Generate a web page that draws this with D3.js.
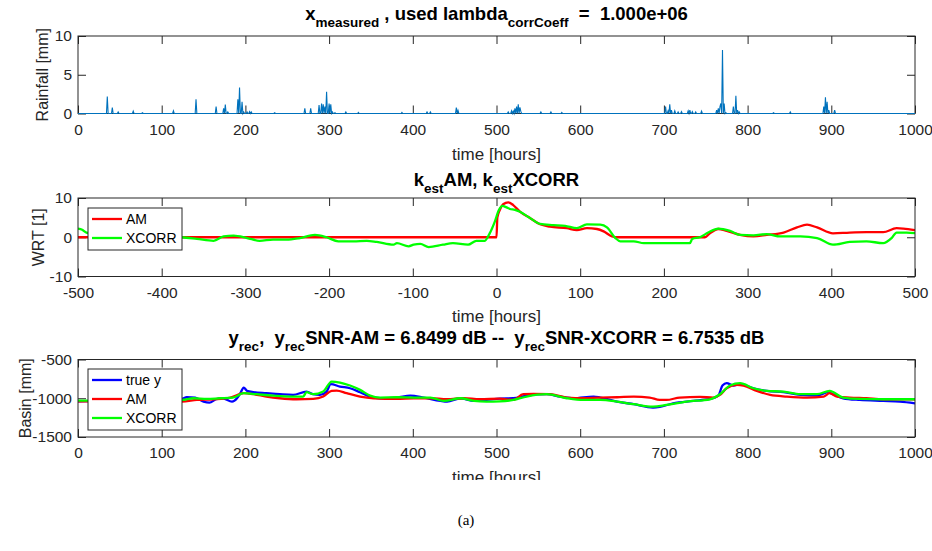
<!DOCTYPE html>
<html><head><meta charset="utf-8">
<script src="https://cdn.jsdelivr.net/npm/d3@7"></script>
<style>
html,body{margin:0;padding:0;background:#fff;}
text{font-family:"Liberation Sans",Arial,sans-serif;}
</style></head>
<body><svg id="c" width="932" height="551"></svg>
<script>
// ---------- DATA ----------
// Panel 1: measured rainfall (non-zero hours only; all other hours are 0)
const rainHours  = [35,41,48,66,77,114,141,165,174,176,179,191,193,196,198,202,205,207,235,271,278,288,291,293,295,297,300,302,304,307,320,335,387,417,421,452,454,514,518,520,522,524,526,528,529,553,565,578,702,705,707,709,713,717,721,729,731,734,738,745,763,765,767,768,770,772,774,783,786,788,790,831,851,891,893,895,897,904];
const rainValues = [2.2,0.75,0.2,0.3,0.1,0.35,1.85,0.9,0.65,1.15,0.2,1.85,3.35,1.5,0.2,0.2,0.25,0.2,0.1,0.65,0.65,1.1,1.3,1.2,0.9,2.8,1.3,1.2,0.2,0.1,0.2,0.15,0.15,0.2,0.2,0.75,0.4,0.2,0.35,0.3,0.65,0.9,1.2,0.8,0.3,0.2,0.2,0.15,0.9,0.35,1.2,0.45,0.35,0.2,0.25,0.35,0.45,0.25,0.2,0.3,0.45,0.65,0.9,1.3,8.2,1.3,0.1,0.9,2.3,0.45,0.2,0.1,0.2,0.9,2.1,1.5,0.45,0.45];

// Panel 2: estimated kernels
const amLag  = [-500,0,1,4,8,14,20,28,40,52,64,84,96,108,120,128,138,142,249,255,265,275,291,307,323,343,359,371,383,402,422,442,462,478,486,500];
const amK    = [0,0,5,7.0,8.4,8.9,8.2,6.5,4.9,3.3,2.7,2.3,1.8,2.3,2.1,1.5,0.2,0,0,1,2.1,1.6,0.6,0.2,0.6,1.2,2.5,3.2,2.5,1,1.2,1.3,1.3,2.3,2.2,1.8];
const xcLag  = [-500,-495,-490,-470,-440,-410,-376,-358,-338,-326,-314,-298,-283,-267,-251,-235,-217,-203,-189,-171,-155,-143,-123,-119,-105,-99,-91,-81,-64,-52,-34,-24,-14,-8,-2,3,7,12,16,22,28,40,52,68,82,96,108,124,132,142,148,164,176,195,215,231,234,243,253,265,279,291,307,323,339,363,383,402,422,442,462,472,478,490,500];
const xcK    = [2.2,1.9,1.2,0.6,0.3,0.2,0,-0.4,-0.9,0.2,0.4,-0.2,-0.9,-0.6,-0.6,-0.2,0.6,0,-1.05,-1.05,-0.9,-1.2,-1.9,-1.5,-2.3,-1.9,-1.7,-2.5,-1.9,-1.5,-1.9,-0.9,-0.9,1.05,4,7,8.0,7.6,7.2,7.0,6.5,4.9,3.4,3.1,2.9,2.3,3.3,3.2,2.5,-0.2,-1.05,-1.05,-1.5,-1.5,-1.5,-1.5,-0.4,0,1.2,2.2,1.6,0.6,0.5,0.8,0.2,0.2,-0.2,-1.9,-1.2,-1.05,-1.5,-0.2,1.2,1.2,1.05];

// Panel 3: reconstructed basin storage
const trueT = [0,20,50,80,110,124,130,140,150,157,165,173,184,190,194,198,202,210,225,241,257,273,281,289,297,302,313,325,337,349,361,381,397,413,433,441,457,473,488,504,520,536,560,576,592,616,624,644,664,687,695,711,735,755,765,770,775,783,791,807,823,843,863,883,896,902,914,934,962,982,1000];
const trueV = [-1040,-1035,-1030,-1025,-1015,-1009,-987,-991,-1043,-1056,-1013,-1000,-1043,-1000,-935,-862,-905,-922,-935,-948,-957,-914,-948,-957,-914,-819,-849,-871,-922,-978,-1000,-991,-966,-991,-1034,-1043,-1000,-1034,-1022,-1005,-1000,-966,-948,-978,-1000,-978,-991,-1043,-1077,-1120,-1112,-1065,-1034,-1009,-966,-836,-806,-836,-819,-871,-905,-922,-957,-966,-922,-948,-1000,-1022,-1034,-1043,-1065];
const amT   = [0,60,124,142,162,182,198,210,225,241,261,281,293,303,309,321,337,353,381,401,421,441,461,480,504,520,532,544,564,584,604,624,644,664,683,695,703,719,743,759,767,775,787,795,811,827,847,871,891,898,907,922,942,962,1000];
const amV   = [-1040,-1040,-1043,-1022,-1013,-991,-935,-948,-978,-1000,-1013,-1009,-978,-905,-901,-935,-978,-1000,-1009,-1000,-1000,-1013,-1000,-1013,-1005,-1022,-948,-944,-948,-991,-1000,-991,-987,-978,-991,-1022,-1022,-991,-983,-991,-957,-871,-828,-836,-905,-957,-978,-991,-978,-935,-978,-991,-1000,-1013,-1013];
const xcT   = [0,60,124,138,154,169,185,198,213,233,253,269,273,281,293,303,313,325,337,349,361,381,401,421,437,457,473,488,504,520,536,560,584,604,624,644,664,687,703,727,755,767,779,791,807,823,843,863,883,898,914,934,962,1000];
const xcV   = [-1030,-1030,-1022,-1000,-1009,-1000,-991,-935,-948,-966,-978,-978,-922,-948,-914,-785,-798,-836,-892,-966,-991,-987,-991,-991,-1034,-1000,-1034,-1043,-1040,-1022,-978,-948,-1000,-1022,-1022,-1043,-1077,-1108,-1086,-1043,-1013,-948,-836,-806,-871,-905,-914,-948,-948,-905,-991,-1009,-1013,-1013];

// ticks
const timeTicks = [0,100,200,300,400,500,600,700,800,900,1000];
const lagTicks  = [-500,-400,-300,-200,-100,0,100,200,300,400,500];
const rainTicks = [0,5,10];
const wrtTicks  = [-10,0,10];
const basinTicks= [-1500,-1000,-500];

// ---------- checks ----------
[[rainHours,rainValues],[amLag,amK],[xcLag,xcK],[trueT,trueV],[amT,amV],[xcT,xcV]].forEach((p,i)=>{
  if(p[0].length!==p[1].length) throw new Error("length mismatch "+i+": "+p[0].length+" vs "+p[1].length);
});

// ---------- LAYOUT ----------
const svg = d3.select("#c");
const X0 = 78, X1 = 915;
const AX = "#262626";
const zip = (a,b)=>a.map((v,i)=>[v,b[i]]);
const fmt = d => String(d);   // plain hyphen-minus like MATLAB

const defs = svg.append("defs");
defs.append("clipPath").attr("id","figclip")
  .append("rect").attr("x",0).attr("y",0).attr("width",932).attr("height",480);
const fig = svg.append("g").attr("clip-path","url(#figclip)");

function panel(cfg){
  const g = fig.append("g");
  const x = d3.scaleLinear().domain(cfg.xdom).range([X0,X1]);
  const y = d3.scaleLinear().domain(cfg.ydom).range([cfg.bottom,cfg.top]);
  g.append("rect").attr("x",X0).attr("y",cfg.top).attr("width",X1-X0).attr("height",cfg.bottom-cfg.top).attr("fill","#fff");
  const ax = g.append("g").attr("transform",`translate(0,${cfg.bottom})`)
    .call(d3.axisBottom(x).tickValues(cfg.xticks).tickFormat(fmt).tickSizeInner(-8).tickSizeOuter(0).tickPadding(10));
  const axT = g.append("g").attr("transform",`translate(0,${cfg.top})`)
    .call(d3.axisTop(x).tickValues(cfg.xticks).tickFormat("").tickSizeInner(-8).tickSizeOuter(0));
  const ay = g.append("g").attr("transform",`translate(${X0},0)`)
    .call(d3.axisLeft(y).tickValues(cfg.yticks).tickFormat(fmt).tickSizeInner(-8).tickSizeOuter(0).tickPadding(6));
  const ayR = g.append("g").attr("transform",`translate(${X1},0)`)
    .call(d3.axisRight(y).tickValues(cfg.yticks).tickFormat("").tickSizeInner(-8).tickSizeOuter(0));
  [ax,axT,ay,ayR].forEach(a=>{
    a.select(".domain").remove();
    a.selectAll("line").attr("stroke",AX).attr("stroke-width",1);
    a.selectAll("text").attr("fill",AX).style("font-size","15.5px").style("font-family","Liberation Sans, Arial, sans-serif");
  });
  // title with subscripts
  const t = g.append("text").attr("x",(X0+X1)/2).attr("y",cfg.titleY).attr("text-anchor","middle")
    .attr("fill","#000").style("font-size","18.5px").style("font-weight","bold").style("white-space","pre");
  let shifted = false;
  cfg.title.forEach(part=>{
    const ts = t.append("tspan").text(part.t);
    if(part.sub){ ts.attr("dy",7).style("font-size","13.5px"); shifted = true; }
    else if(shifted){ ts.attr("dy",-7); shifted = false; }
  });
  // labels
  g.append("text").attr("x",(X0+X1)/2).attr("y",cfg.xlabY).attr("text-anchor","middle")
    .attr("fill",AX).style("font-size","17px").text("time [hours]");
  g.append("text").attr("transform",`translate(${cfg.ylabX},${(cfg.top+cfg.bottom)/2}) rotate(-90)`)
    .attr("text-anchor","middle").attr("fill",AX).style("font-size","16px").text(cfg.ylab);
  return {g,x,y,frame:()=>{
    g.append("rect").attr("x",X0).attr("y",cfg.top).attr("width",X1-X0).attr("height",cfg.bottom-cfg.top)
      .attr("fill","none").attr("stroke",AX).attr("stroke-width",1);
  }};
}

// ---------- PANEL 1 ----------
const p1 = panel({xdom:[0,1000],ydom:[0,10],top:36,bottom:113.5,xticks:timeTicks,yticks:rainTicks,
  titleY:20,xlabY:160,ylab:"Rainfall [mm]",ylabX:48,
  title:[{t:"x"},{t:"measured",sub:true},{t:" , used lambda"},{t:"corrCoeff",sub:true},{t:"  =  1.000e+06"}]});
p1.frame();
const rainMap = new Map(rainHours.map((h,i)=>[h,rainValues[i]]));
const rainSeries = d3.range(0,1001).map(h=>[h, rainMap.has(h)?rainMap.get(h):0]);
p1.g.append("path").datum(rainSeries)
  .attr("d",d3.line().x(d=>p1.x(d[0])).y(d=>p1.y(d[1])))
  .attr("fill","none").attr("stroke","#0072BD").attr("stroke-width",1.1);

// ---------- PANEL 2 ----------
const p2 = panel({xdom:[-500,500],ydom:[-10,10],top:198,bottom:276.5,xticks:lagTicks,yticks:wrtTicks,
  titleY:186,xlabY:322,ylab:"WRT [1]",ylabX:44,
  title:[{t:"k"},{t:"est",sub:true},{t:"AM, k"},{t:"est",sub:true},{t:"XCORR"}]});
defs.append("clipPath").attr("id","clip2").append("rect").attr("x",X0).attr("y",198).attr("width",X1-X0).attr("height",78.5);
const lg2 = d3.line().x(d=>p2.x(d[0])).y(d=>p2.y(d[1])).curve(d3.curveMonotoneX);
const c2 = p2.g.append("g").attr("clip-path","url(#clip2)");
c2.append("path").attr("d",lg2(zip(amLag,amK))).attr("fill","none").attr("stroke","#ff0000").attr("stroke-width",2.3);
c2.append("path").attr("d",lg2(zip(xcLag,xcK))).attr("fill","none").attr("stroke","#00ff00").attr("stroke-width",2.3);
p2.frame();

// ---------- PANEL 3 ----------
const p3 = panel({xdom:[0,1000],ydom:[-1500,-500],top:359.5,bottom:437,xticks:timeTicks,yticks:basinTicks,
  titleY:344,xlabY:483,ylab:"Basin [mm]",ylabX:31,
  title:[{t:"y"},{t:"rec",sub:true},{t:",  y"},{t:"rec",sub:true},{t:"SNR-AM = 6.8499 dB --  y"},{t:"rec",sub:true},{t:"SNR-XCORR = 6.7535 dB"}]});
const lg3 = d3.line().x(d=>p3.x(d[0])).y(d=>p3.y(d[1])).curve(d3.curveMonotoneX);
p3.g.append("path").attr("d",lg3(zip(trueT,trueV))).attr("fill","none").attr("stroke","#0000ff").attr("stroke-width",2.3);
p3.g.append("path").attr("d",lg3(zip(amT,amV))).attr("fill","none").attr("stroke","#ff0000").attr("stroke-width",2.3);
p3.g.append("path").attr("d",lg3(zip(xcT,xcV))).attr("fill","none").attr("stroke","#00ff00").attr("stroke-width",2.3);
p3.frame();

// ---------- LEGENDS ----------
function legend(g, x0, y0, w, entries, step){
  const h = entries.length*step + 4;
  g.append("rect").attr("x",x0).attr("y",y0).attr("width",w).attr("height",h)
    .attr("fill","#fff").attr("stroke",AX).attr("stroke-width",1);
  entries.forEach((e,i)=>{
    const yy = y0 + 11 + i*step;
    g.append("line").attr("x1",x0+4).attr("x2",x0+34).attr("y1",yy).attr("y2",yy)
      .attr("stroke",e.c).attr("stroke-width",2.3);
    g.append("text").attr("x",x0+38).attr("y",yy).attr("dy","0.35em").attr("fill","#000")
      .style("font-size","14px").text(e.n);
  });
}
legend(p2.g, 88, 208, 94, [{n:"AM",c:"#ff0000"},{n:"XCORR",c:"#00ff00"}], 19);
legend(p3.g, 88, 369, 94, [{n:"true y",c:"#0000ff"},{n:"AM",c:"#ff0000"},{n:"XCORR",c:"#00ff00"}], 19);

// caption
svg.append("text").attr("x",466).attr("y",525).attr("text-anchor","middle")
  .style("font-family","Liberation Serif, Times New Roman, serif").style("font-size","15px").attr("fill","#000").text("(a)");
</script></body></html>
